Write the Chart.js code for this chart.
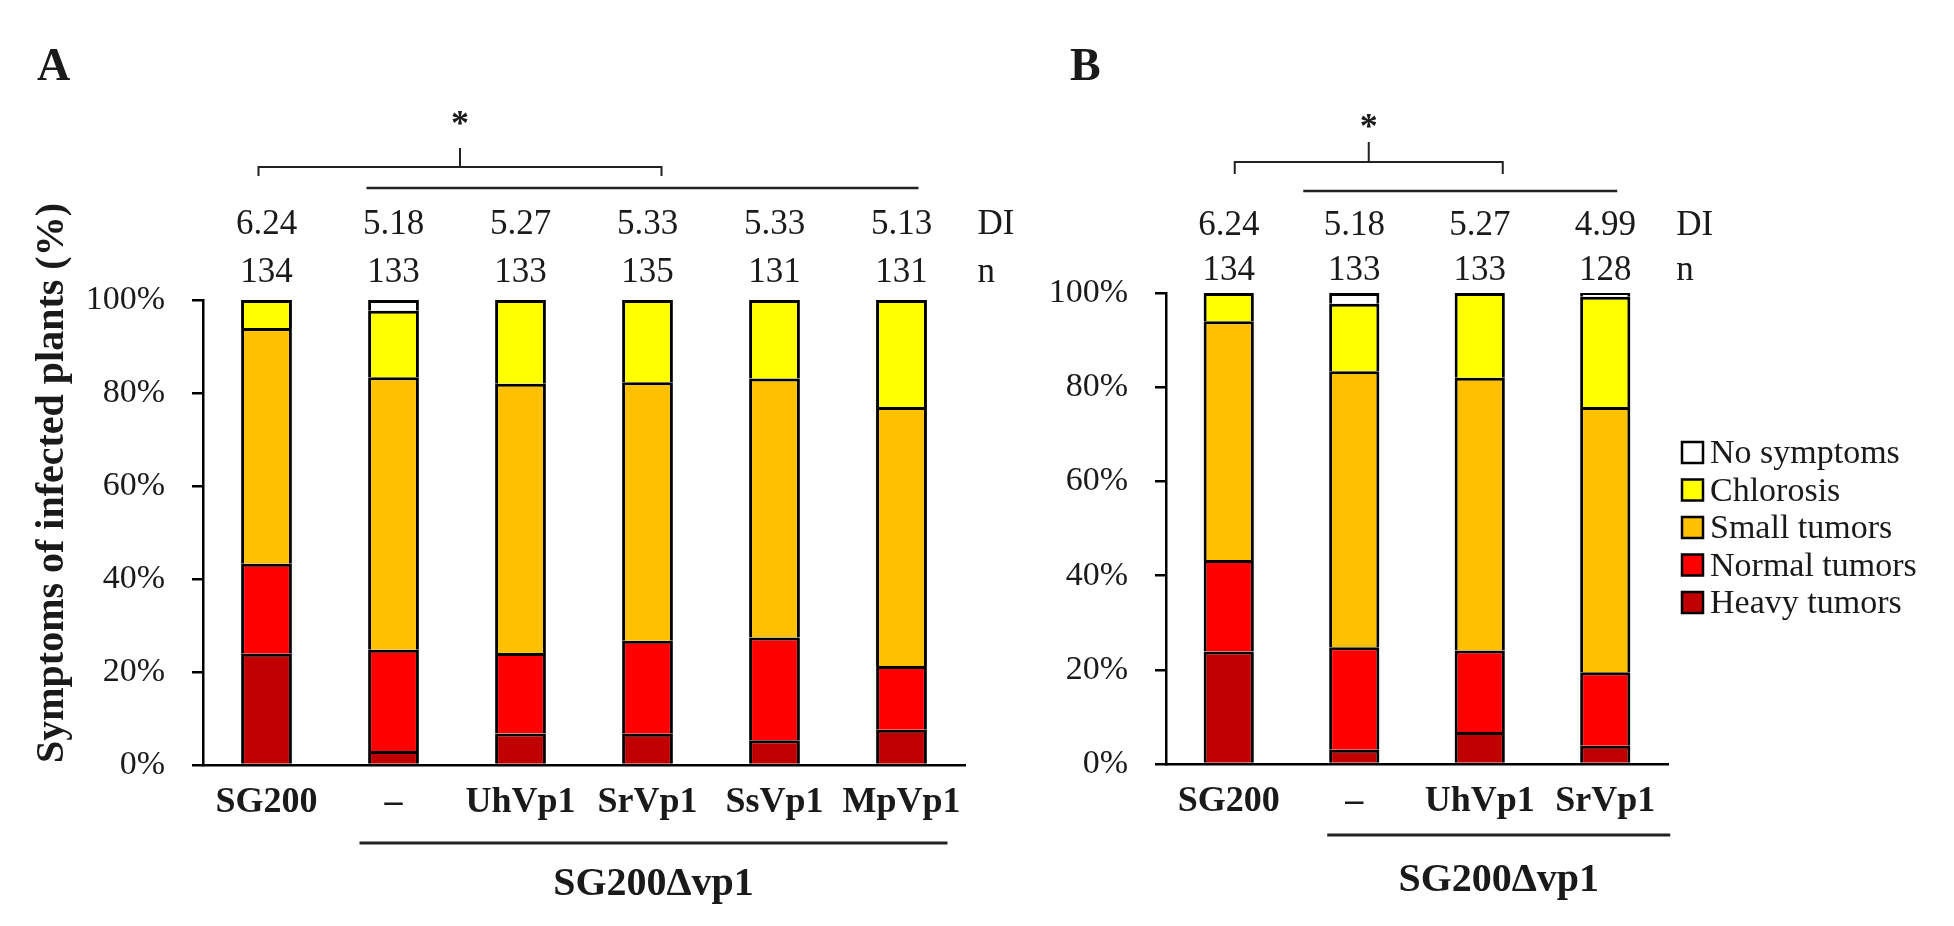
<!DOCTYPE html>
<html>
<head>
<meta charset="utf-8">
<script src="https://cdn.jsdelivr.net/npm/chart.js@4.4.1/dist/chart.umd.min.js"></script>
<style>
  html, body { margin: 0; padding: 0; background: #fff; }
  #wrap { position: relative; width: 1954px; height: 926px; overflow: hidden; }
  canvas { position: absolute; top: 0; }
</style>
</head>
<body>
<div id="wrap">
  <canvas id="chartA" width="1040" height="926" style="left:0"></canvas>
  <canvas id="chartB" width="914" height="926" style="left:1040px"></canvas>
</div>
<script>
// series order: bottom of the stack first
const seriesNames = ["Heavy tumors", "Normal tumors", "Small tumors", "Chlorosis", "No symptoms"];
const seriesColors = ["#C00000", "#FF0000", "#FFC000", "#FFFF00", "#FFFFFF"];

// panel A
const categoriesA = ["SG200", "\u2013", "UhVp1", "SrVp1", "SsVp1", "MpVp1"];
const heavyA = [23.9, 3.0, 6.8, 6.7, 5.3, 7.6];
const normalA = [19.4, 21.8, 17.3, 20.0, 22.1, 13.7];
const smallA = [50.7, 58.6, 57.9, 55.6, 55.7, 55.7];
const chlorosisA = [6.0, 14.3, 18.0, 17.7, 16.9, 23.0];
const noneA = [0, 2.3, 0, 0, 0, 0];
const diA = ["6.24", "5.18", "5.27", "5.33", "5.33", "5.13"];
const nA = ["134", "133", "133", "135", "131", "131"];

// panel B
const categoriesB = ["SG200", "\u2013", "UhVp1", "SrVp1"];
const heavyB = [23.9, 3.0, 6.8, 3.9];
const normalB = [19.4, 21.8, 17.3, 15.6];
const smallB = [50.7, 58.6, 57.9, 56.3];
const chlorosisB = [6.0, 14.3, 18.0, 23.4];
const noneB = [0, 2.3, 0, 0.8];
const diB = ["6.24", "5.18", "5.27", "4.99"];
const nB = ["134", "133", "133", "128"];

const yTicks = [0, 20, 40, 60, 80, 100];

const serif = '"Liberation Serif", "Times New Roman", serif';
const textColor = "#1a1a1a";

function decoPlugin(cfg) {
  return {
    id: "deco" + cfg.letter,
    afterDraw(chart) {
      const ctx = chart.ctx;
      const px = (i) => chart.scales.x.getPixelForValue(i);
      const last = cfg.labels.length - 1;
      ctx.save();
      ctx.fillStyle = textColor;
      ctx.strokeStyle = "#222";

      // panel letter
      ctx.font = "bold 46px " + serif;
      ctx.textAlign = "left";
      ctx.textBaseline = "alphabetic";
      ctx.fillText(cfg.letter, cfg.letterX, 80);

      // y axis title
      if (cfg.yTitle) {
        ctx.save();
        ctx.translate(63, 483);
        ctx.rotate(-Math.PI / 2);
        ctx.textAlign = "center";
        ctx.font = "bold 40px " + serif;
        ctx.fillText(cfg.yTitle, 0, 0);
        ctx.restore();
      }

      // DI and n rows
      ctx.font = "35px " + serif;
      ctx.textAlign = "center";
      cfg.di.forEach((t, i) => ctx.fillText(t, px(i), cfg.diY));
      cfg.n.forEach((t, i) => ctx.fillText(t, px(i), cfg.nY));
      ctx.textAlign = "left";
      ctx.fillText("DI", px(last) + cfg.rowDx, cfg.diY);
      ctx.fillText("n", px(last) + cfg.rowDx, cfg.nY);

      // significance bracket
      const b = cfg.bracket;
      const bx0 = px(b.from) + b.dx0, bx1 = px(b.to) + b.dx1, bm = (bx0 + bx1) / 2;
      ctx.lineWidth = 2;
      ctx.beginPath();
      ctx.moveTo(bx0, b.tipY); ctx.lineTo(bx0, b.y); ctx.lineTo(bx1, b.y); ctx.lineTo(bx1, b.tipY);
      ctx.moveTo(bm, b.y); ctx.lineTo(bm, b.topY);
      ctx.stroke();
      ctx.font = "bold 36px " + serif;
      ctx.textAlign = "center";
      ctx.fillText("*", bm, b.starY);

      // line over the mutant group
      const l = cfg.topLine;
      ctx.lineWidth = 2.5;
      ctx.beginPath();
      ctx.moveTo(px(l.from) + l.dx0, l.y); ctx.lineTo(px(l.to) + l.dx1, l.y);
      ctx.stroke();

      // group line and label under the axis
      const g = cfg.group;
      const gx0 = px(g.from) + g.dx0, gx1 = px(g.to) + g.dx1;
      ctx.lineWidth = 3;
      ctx.beginPath();
      ctx.moveTo(gx0, g.y); ctx.lineTo(gx1, g.y);
      ctx.stroke();
      ctx.font = "bold 40px " + serif;
      ctx.fillText("SG200\u0394vp1", (gx0 + gx1) / 2, g.labelY);

      // legend (top of the stack first)
      if (cfg.legend) {
        const lg = cfg.legend;
        ctx.font = "34px " + serif;
        ctx.textAlign = "left";
        const items = chart.data.datasets.slice().reverse();
        items.forEach((ds, k) => {
          const y = lg.y0 + k * lg.step;
          ctx.fillStyle = ds.backgroundColor;
          ctx.fillRect(lg.x, y - 21, 21, 21);
          ctx.lineWidth = 2.5;
          ctx.strokeStyle = "#000";
          ctx.strokeRect(lg.x, y - 21, 21, 21);
          ctx.fillStyle = textColor;
          ctx.fillText(ds.label, lg.x + 28, y);
        });
      }
      ctx.restore();
    },
  };
}

function makeChart(id, cfg) {
  const ctx = document.getElementById(id).getContext("2d");
  return new Chart(ctx, {
    type: "bar",
    data: {
      labels: cfg.labels,
      datasets: seriesNames.map((name, i) => ({
        label: name,
        data: cfg.series[i],
        backgroundColor: seriesColors[i],
        borderColor: "#000",
        borderWidth: 3,
        barPercentage: 0.4,
        categoryPercentage: 1.0,
      })),
    },
    options: {
      responsive: false,
      animation: false,
      devicePixelRatio: 1,
      layout: { padding: cfg.padding },
      plugins: {
        legend: { display: false },
        tooltip: { enabled: false },
      },
      scales: {
        x: {
          stacked: true,
          grid: { display: true, drawOnChartArea: false, drawTicks: false },
          border: { display: true, color: "#000", width: 2.5 },
          ticks: {
            color: textColor,
            padding: 16,
            font: { family: serif, size: 36, weight: "bold" },
          },
          afterFit: (s) => { s.height = 60; },
        },
        y: {
          stacked: true,
          min: 0,
          max: 100,
          afterBuildTicks: (s) => { s.ticks = yTicks.map((v) => ({ value: v })); },
          ticks: {
            color: textColor,
            padding: 27,
            callback: (v) => v + "%",
            font: { family: serif, size: 34 },
          },
          grid: { drawOnChartArea: false, drawTicks: true, tickLength: 11, color: "#000", lineWidth: 2.5 },
          border: { display: true, color: "#000", width: 2.5 },
          afterFit: (s) => { s.width = cfg.yWidth; },
        },
      },
    },
    plugins: [decoPlugin(cfg)],
  });
}

makeChart("chartA", {
  letter: "A",
  letterX: 37,
  labels: categoriesA,
  series: [heavyA, normalA, smallA, chlorosisA, noneA],
  di: diA,
  n: nA,
  diY: 234,
  nY: 282,
  rowDx: 76,
  yWidth: 203,
  padding: { left: 0, right: 75, top: 300, bottom: 101 },
  yTitle: "Symptoms of infected plants (%)",
  bracket: { from: 0, to: 3, dx0: -8, dx1: 14, y: 167, tipY: 176, topY: 148, starY: 135 },
  topLine: { from: 1, to: 5, dx0: -27, dx1: 17, y: 188 },
  group: { from: 1, to: 5, dx0: -34, dx1: 46, y: 843, labelY: 895 },
});

makeChart("chartB", {
  letter: "B",
  letterX: 30,
  labels: categoriesB,
  series: [heavyB, normalB, smallB, chlorosisB, noneB],
  di: diB,
  n: nB,
  diY: 235,
  nY: 280,
  rowDx: 71,
  yWidth: 126,
  padding: { left: 0, right: 286, top: 293, bottom: 102 },
  bracket: { from: 0, to: 2, dx0: 6, dx1: 23, y: 162, tipY: 174, topY: 142, starY: 138 },
  topLine: { from: 1, to: 3, dx0: -51, dx1: 12, y: 191 },
  group: { from: 1, to: 3, dx0: -27, dx1: 65, y: 835, labelY: 891 },
  legend: { x: 642, y0: 463, step: 37.5 },
});
</script>
</body>
</html>
